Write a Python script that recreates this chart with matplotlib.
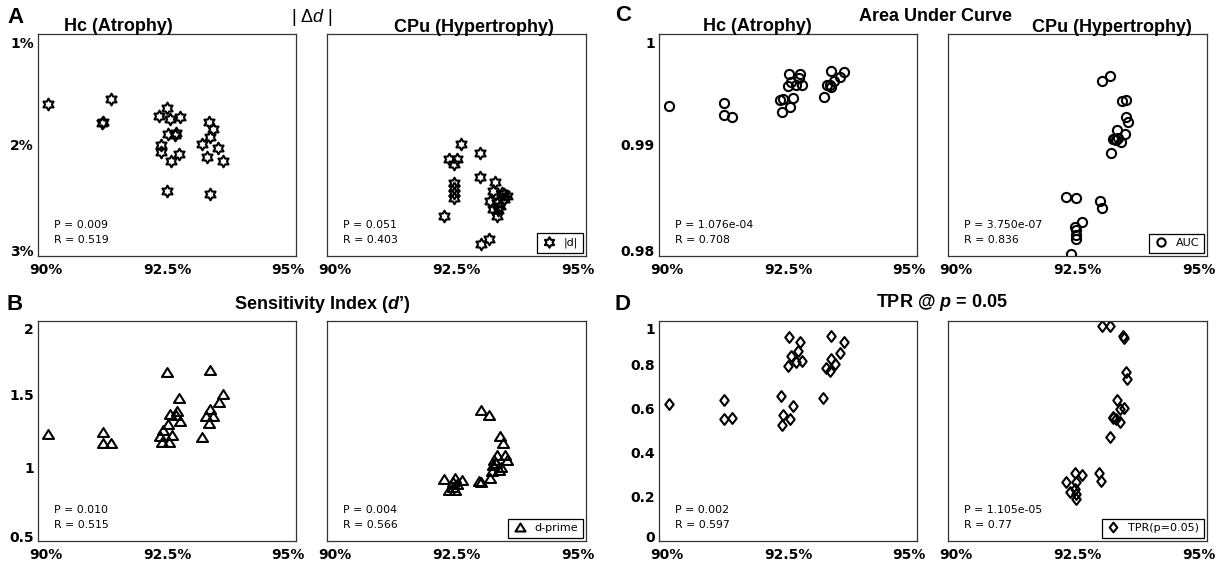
import math

import matplotlib
matplotlib.use("Agg")
import matplotlib.pyplot as plt
from matplotlib.path import Path
from matplotlib.transforms import ScaledTranslation

plt.rcParams["font.family"] = "DejaVu Sans"
plt.rcParams["mathtext.fontset"] = "custom"
plt.rcParams["mathtext.rm"] = "Liberation Sans"
plt.rcParams["mathtext.it"] = "Liberation Sans:italic"
plt.rcParams["mathtext.bf"] = "Liberation Sans:bold"
plt.rcParams["mathtext.bfit"] = "Liberation Sans:italic:bold"

# ---------------------------------------------------------------- data
# x axis: accuracy in %, one array per sub-plot

# A: |delta d| (shown in %)
hc_dd_x = [90.19, 91.41, 91.25, 91.24, 92.50, 92.35, 92.55, 92.76, 92.52, 92.68, 92.66, 92.38,
           92.39, 92.57, 92.74, 92.50, 93.31, 93.40, 93.33, 93.17, 93.49, 93.58, 93.27, 93.33]
hc_dd_y = [1.63, 1.59, 1.79, 1.80, 1.67, 1.74, 1.77, 1.75, 1.90, 1.89, 1.91, 2.00,
           2.06, 2.14, 2.08, 2.41, 1.79, 1.86, 1.93, 1.99, 2.03, 2.14, 2.11, 2.44]
cpu_dd_x = [92.59, 92.96, 92.36, 92.50, 92.46, 92.95, 92.45, 92.45, 92.46, 92.46, 93.24, 93.21,
            93.37, 93.47, 93.42, 93.15, 93.28, 93.34, 93.21, 93.28, 93.31, 92.26, 92.98, 93.13, 93.41]
cpu_dd_y = [1.99, 2.07, 2.13, 2.13, 2.17, 2.29, 2.34, 2.39, 2.43, 2.48, 2.33, 2.41,
            2.43, 2.46, 2.49, 2.50, 2.52, 2.55, 2.58, 2.64, 2.59, 2.64, 2.89, 2.85, 2.44]

# B: sensitivity index d'
hc_dp_x = [90.19, 91.25, 91.25, 91.42, 92.50, 92.74, 92.56, 92.70, 92.67, 92.76, 92.51, 92.43,
           92.36, 92.59, 92.40, 92.54, 93.33, 93.58, 93.51, 93.33, 93.25, 93.40, 93.32, 93.17]
hc_dp_y = [1.227, 1.243, 1.170, 1.170, 1.652, 1.477, 1.368, 1.386, 1.357, 1.318, 1.300, 1.255,
           1.216, 1.220, 1.175, 1.175, 1.668, 1.500, 1.448, 1.402, 1.352, 1.352, 1.305, 1.209]
cpu_dp_x = [92.97, 93.13, 93.34, 93.40, 93.44, 93.48, 93.22, 93.26, 93.21, 93.36, 93.33, 93.18,
            93.15, 92.94, 92.97, 92.26, 92.47, 92.60, 92.44, 92.50, 92.36, 92.47, 92.44, 93.29]
cpu_dp_y = [1.391, 1.357, 1.214, 1.170, 1.089, 1.050, 1.055, 1.032, 1.016, 1.005, 0.982, 0.977,
            0.932, 0.909, 0.902, 0.925, 0.932, 0.918, 0.902, 0.891, 0.845, 0.845, 0.868, 1.084]

# C: area under curve
hc_auc_x = [90.19, 91.26, 91.25, 91.42, 92.51, 92.74, 92.71, 92.56, 92.50, 92.65, 92.77, 92.35,
            92.40, 92.59, 92.54, 92.39, 93.34, 93.59, 93.51, 93.40, 93.32, 93.25, 93.33, 93.19]
hc_auc_y = [0.99347, 0.99377, 0.99266, 0.99254, 0.99642, 0.99636, 0.99600, 0.99564, 0.99528,
            0.99543, 0.99540, 0.99401, 0.99416, 0.99420, 0.99338, 0.99296, 0.99663, 0.99654,
            0.99612, 0.99576, 0.99543, 0.99543, 0.99522, 0.99429]
cpu_auc_x = [92.98, 93.13, 93.35, 93.43, 93.44, 93.48, 93.26, 93.42, 93.18, 93.25, 93.34, 93.14,
             92.27, 92.47, 92.94, 92.97, 92.58, 92.46, 92.48, 92.48, 92.47, 92.37, 93.29, 93.21]
cpu_auc_y = [0.99573, 0.99618, 0.99398, 0.99407, 0.99251, 0.99203, 0.99137, 0.99098, 0.99053,
             0.99047, 0.99023, 0.98926, 0.98535, 0.98520, 0.98499, 0.98430, 0.98304, 0.98265,
             0.98235, 0.98190, 0.98150, 0.98015, 0.99062, 0.99050]

# D: true positive rate at p = 0.05
hc_tpr_x = [90.19, 91.26, 91.25, 91.41, 92.51, 92.74, 92.70, 92.56, 92.66, 92.77, 92.50, 92.36,
            92.59, 92.40, 92.53, 92.39, 93.33, 93.58, 93.50, 93.33, 93.41, 93.24, 93.32, 93.18]
hc_tpr_y = [0.621, 0.642, 0.556, 0.561, 0.927, 0.903, 0.864, 0.839, 0.814, 0.817, 0.797, 0.661,
            0.614, 0.574, 0.556, 0.526, 0.932, 0.903, 0.855, 0.826, 0.806, 0.788, 0.773, 0.650]
cpu_tpr_x = [92.98, 93.12, 93.37, 93.40, 93.43, 93.46, 93.26, 93.40, 93.32, 93.19, 93.24, 93.32,
             93.13, 92.27, 92.45, 92.58, 92.48, 92.92, 92.95, 92.35, 92.46, 92.48, 92.47, 93.19]
cpu_tpr_y = [0.977, 0.976, 0.930, 0.923, 0.768, 0.736, 0.642, 0.606, 0.602, 0.564, 0.556, 0.541,
             0.473, 0.268, 0.311, 0.298, 0.268, 0.311, 0.271, 0.221, 0.238, 0.215, 0.192, 0.561]

x_ticks = [90, 92.5, 95]
x_labels = ["90%", "92.5%", "95%"]

dd_ticks = [1, 2, 3]
dd_labels = ["1%", "2%", "3%"]
dp_ticks = [0.5, 1, 1.5, 2]
dp_labels = ["0.5", "1", "1.5", "2"]
auc_ticks = [0.98, 0.99, 1]
auc_labels = ["0.98", "0.99", "1"]
tpr_ticks = [0, 0.2, 0.4, 0.6, 0.8, 1]
tpr_labels = ["0", "0.2", "0.4", "0.6", "0.8", "1"]

stats = {
    "hc_dd": ("0.009", "0.519"), "cpu_dd": ("0.051", "0.403"),
    "hc_dp": ("0.010", "0.515"), "cpu_dp": ("0.004", "0.566"),
    "hc_auc": ("1.076e-04", "0.708"), "cpu_auc": ("3.750e-07", "0.836"),
    "hc_tpr": ("0.002", "0.597"), "cpu_tpr": ("1.105e-05", "0.77"),
}

# ---------------------------------------------------------------- figure
W, H = 1225, 567
fig = plt.figure(figsize=(W / 100, H / 100), dpi=100)


def px_axes(x0, y0, x1, y1):
    return fig.add_axes([x0 / W, 1 - y1 / H, (x1 - x0) / W, (y1 - y0) / H])


def fig_text(x, y, s, **kw):
    fig.text(x / W, 1 - y / H, s, va="baseline", **kw)


def closed(verts):
    return Path(verts + [verts[0]], closed=True)


# hexagram (star of David outline), point up
STAR = closed([((1 if i % 2 == 0 else 1 / math.sqrt(3)) * math.cos(math.pi / 2 + i * math.pi / 6),
                (1 if i % 2 == 0 else 1 / math.sqrt(3)) * math.sin(math.pi / 2 + i * math.pi / 6))
               for i in range(12)])
TRI = closed([(0, 0.8), (-1, -0.8), (1, -0.8)])
DIAM = closed([(0, 1), (0.78, 0), (0, -1), (-0.78, 0)])


def panel(box, xs, ys, marker, ms, ylim, yticks, ylabels, key, legend=None):
    ax = px_axes(*box)
    ax.plot(xs, ys, ls="none", marker=marker, ms=ms, mfc="none", mec="black",
            mew=1.5, label=legend)
    ax.set_xlim(90, 95)
    ax.set_ylim(*ylim)
    for s in ax.spines.values():
        s.set_color("#333333")
        s.set_linewidth(0.9)
    ax.tick_params(length=0)
    ax.set_xticks(x_ticks, x_labels)
    ax.tick_params(axis="x", pad=5, labelsize=10)
    xl = ax.get_xticklabels()
    for lab in xl:
        lab.set_fontweight("bold")
    xl[0].set_transform(xl[0].get_transform() + ScaledTranslation(0.08, 0, fig.dpi_scale_trans))
    xl[-1].set_transform(xl[-1].get_transform() + ScaledTranslation(-0.08, 0, fig.dpi_scale_trans))
    if ylabels is None:
        ax.set_yticks([])
    else:
        ax.set_yticks(yticks, ylabels)
        ax.tick_params(axis="y", pad=3, labelsize=10)
        yl = ax.get_yticklabels()
        for lab in yl:
            lab.set_fontweight("bold")
        # end labels are nudged inside the axes range, as in the original
        top, bottom = (yl[-1], yl[0]) if ylim[1] > ylim[0] else (yl[0], yl[-1])
        top.set_transform(top.get_transform() + ScaledTranslation(0, -0.08, fig.dpi_scale_trans))
        bottom.set_transform(bottom.get_transform() + ScaledTranslation(0, 0.05, fig.dpi_scale_trans))
    p, r = stats[key]
    ax.text(0.062, 0.14, f"P = {p}", transform=ax.transAxes, fontsize=7.8, va="center")
    ax.text(0.062, 0.072, f"R = {r}", transform=ax.transAxes, fontsize=7.8, va="center")
    if legend:
        lg = ax.legend(loc="lower right", fontsize=8, fancybox=False, framealpha=1,
                       edgecolor="black", handlelength=1.3, handletextpad=0.7,
                       borderpad=0.4, borderaxespad=0.3, markerscale=0.9)
        lg.get_frame().set_linewidth(0.9)
    return ax


top_y, bot_y = (34, 256), (321, 541)
cols = [(38, 296), (327, 586), (659, 917), (948, 1207)]


def box(col, row):
    return (cols[col][0], row[0], cols[col][1], row[1])


panel(box(0, top_y), hc_dd_x, hc_dd_y, STAR, 8.4, (3, 1), dd_ticks, dd_labels, "hc_dd")
panel(box(1, top_y), cpu_dd_x, cpu_dd_y, STAR, 8.4, (3, 1), dd_ticks, None, "cpu_dd", "|d|")
panel(box(2, top_y), hc_auc_x, hc_auc_y, "o", 6.6, (0.98, 1), auc_ticks, auc_labels, "hc_auc")
panel(box(3, top_y), cpu_auc_x, cpu_auc_y, "o", 6.6, (0.98, 1), auc_ticks, None, "cpu_auc", "AUC")
panel(box(0, bot_y), hc_dp_x, hc_dp_y, TRI, 8.0, (0.5, 2), dp_ticks, dp_labels, "hc_dp")
panel(box(1, bot_y), cpu_dp_x, cpu_dp_y, TRI, 8.0, (0.5, 2), dp_ticks, None, "cpu_dp", "d-prime")
panel(box(2, bot_y), hc_tpr_x, hc_tpr_y, DIAM, 7.8, (0, 1), tpr_ticks, tpr_labels, "hc_tpr")
panel(box(3, bot_y), cpu_tpr_x, cpu_tpr_y, DIAM, 7.8, (0, 1), tpr_ticks, None, "cpu_tpr", "TPR(p=0.05)")

# titles
bold = dict(family="Liberation Sans", fontweight="bold", fontsize=13, ha="center")
fig_text(118, 30.7, "Hc (Atrophy)", **bold)
fig_text(474, 31.7, "CPu (Hypertrophy)", **bold)
fig_text(757, 30.7, "Hc (Atrophy)", **bold)
fig_text(1112, 31.7, "CPu (Hypertrophy)", **bold)
fig_text(312, 22, r"| $\Delta\mathit{d}$ |", family="Liberation Sans", fontsize=13, ha="center")
fig_text(935, 20.7, "Area Under Curve", **bold)
fig_text(322, 309, r"Sensitivity Index ($\mathbfit{d}$’)", **bold)
fig_text(942, 307, r"TPR @ $\mathbfit{p}$ = 0.05", **bold)

letter = dict(family="Liberation Sans", fontweight="bold", fontsize=16, ha="left")
fig_text(7, 23, "A", **letter)
fig_text(7, 310, "B", **letter)
fig_text(615, 21, "C", **letter)
fig_text(615, 310, "D", **letter)

fig.savefig("out.png", dpi=100)
